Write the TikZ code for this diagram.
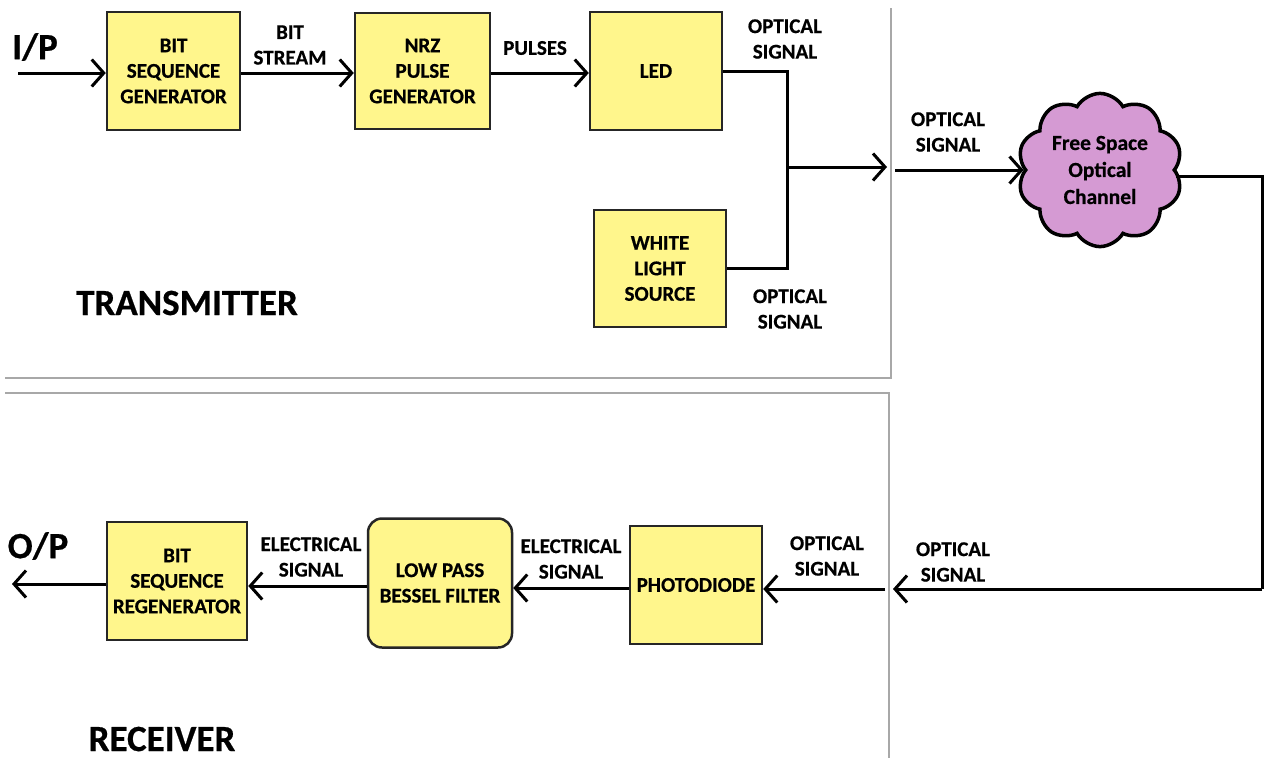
\documentclass[tikz,border=0pt]{standalone}
\usepackage{fontspec}
\setmainfont{Carlito}[BoldFeatures={FakeBold=0.6}]
\usetikzlibrary{arrows.meta,shapes.symbols}
\definecolor{boxy}{HTML}{FFF68C}
\definecolor{cloudp}{HTML}{D59AD3}
\definecolor{framegray}{HTML}{A8A8A8}
\begin{document}
\begin{tikzpicture}[x=1pt,y=-1pt,
  blk/.style={draw=black!85,line width=2.5pt,fill=boxy,align=center,inner sep=0pt,
    font=\bfseries\fontsize{21}{25.5}\selectfont},
  lbl/.style={align=center,inner sep=0pt,font=\bfseries\fontsize{21}{25.5}\selectfont},
  big/.style={inner sep=0pt,font=\bfseries\fontsize{37}{40}\selectfont},
  wire/.style={line width=3pt},
  con/.style={line width=3pt,-{Straight Barb[length=12pt,width=27pt,line width=3pt]}},
  frame/.style={draw=framegray,line width=1.5pt}]
\useasboundingbox (0,0) rectangle (1264,758);
% frames
\draw[frame] (5,378) -- (891,378) -- (891,8);
\draw[frame] (5,393) -- (889,393) -- (889,758);
% transmitter blocks
\node[blk,minimum width=133pt,minimum height=118pt] (bsg) at (173.5,71) {BIT\\SEQUENCE\\GENERATOR};
\node[blk,minimum width=135pt,minimum height=116pt] (nrz) at (422.5,71) {NRZ\\PULSE\\GENERATOR};
\node[blk,minimum width=132pt,minimum height=118pt] (led) at (656,71) {LED};
\node[blk,minimum width=132pt,minimum height=117pt] (wls) at (660,268.5) {WHITE\\LIGHT\\SOURCE};
\node[cloud,cloud puffs=10,cloud puff arc=120,draw=black,line width=3.5pt,fill=cloudp,
  minimum width=165pt,minimum height=125pt,inner sep=0pt,align=center,
  font=\bfseries\fontsize{21.5}{27}\selectfont] (fso) at (1100,170) {Free Space\\Optical\\Channel};
% receiver blocks
\node[blk,minimum width=132pt,minimum height=118pt] (pd) at (696,585) {PHOTODIODE};
\node[blk,rounded corners=14pt,minimum width=144pt,minimum height=129pt] (lpf) at (440,583) {LOW PASS\\BESSEL FILTER};
\node[blk,minimum width=140pt,minimum height=118pt] (bsr) at (177,581) {BIT\\SEQUENCE\\REGENERATOR};
% texts
\node[big] (ip) at (35,47) {I/P};
\node[big] (op) at (38,546) {O/P};
\node[big] (tx) at (187,303) {TRANSMITTER};
\node[big] (rx) at (162,739) {RECEIVER};
\node[lbl] (l1) at (290,45) {BIT\\STREAM};
\node[lbl] (l2) at (535,48) {PULSES};
\node[lbl] (l3) at (785,39) {OPTICAL\\SIGNAL};
\node[lbl] (l4) at (790,309) {OPTICAL\\SIGNAL};
\node[lbl] (l5) at (948,132) {OPTICAL\\SIGNAL};
\node[lbl] (l6) at (953,562) {OPTICAL\\SIGNAL};
\node[lbl] (l7) at (827,556) {OPTICAL\\SIGNAL};
\node[lbl] (l8) at (571,559) {ELECTRICAL\\SIGNAL};
\node[lbl] (l9) at (311,557) {ELECTRICAL\\SIGNAL};
% coordinates
\coordinate (in) at (18,73);
\coordinate (j) at (787,167);
\coordinate (txo) at (887,167);
\coordinate (chi) at (895,170);
\coordinate (rc) at (1262,589);
\coordinate (rxe) at (893,589);
\coordinate (rxi) at (885,589);
\coordinate (out) at (12,584);
% connectors
\draw[con] (in) -- (in -| bsg.west);
\draw[con] (bsg.east |- 0,73) -- (nrz.west |- 0,73);
\draw[con] (nrz.east |- 0,73) -- (led.west |- 0,73);
\draw[wire] (led.east) -| (j);
\draw[wire] (wls.east) -| (j);
\draw[con] (j) -- (txo);
\draw[con] (chi) -- (chi -| fso.west);
\draw[wire] (fso.east |- 0,176) -| (rc);
\draw[con] (rc) -- (rxe);
\draw[con] (rxi) -- (rxi -| pd.east);
\draw[con] (pd.west |- 0,588) -- (lpf.east |- 0,588);
\draw[con] (lpf.west |- 0,586) -- (bsr.east |- 0,586);
\draw[con] (bsr.west |- 0,584) -- (out);
\end{tikzpicture}
\end{document}
